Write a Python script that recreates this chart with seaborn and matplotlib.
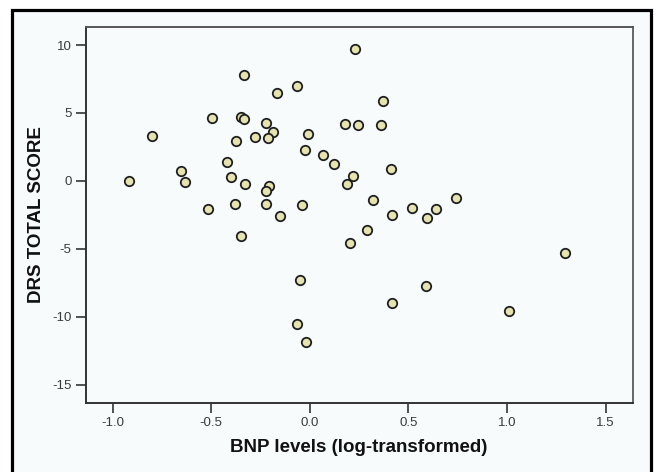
import matplotlib
matplotlib.use("Agg")
import matplotlib.pyplot as plt
from matplotlib.patches import Rectangle
import seaborn as sns
import pandas as pd

bnp_log = [0.231, -0.333, -0.064, -0.168, 0.371, -0.494, -0.350, -0.335, -0.225, 0.176,
           0.242, 0.361, -0.802, -0.189, -0.276, -0.214, -0.376, -0.008, -0.025, 0.064,
           0.121, -0.422, -0.654, 0.410, -0.401, 0.221, -0.919, -0.635, -0.329, -0.208,
           -0.221, 0.189, 0.318, 0.739, -0.518, -0.380, -0.225, -0.042, -0.151, 0.418,
           0.516, 0.641, 0.596, 0.291, -0.348, 0.202, 1.292, -0.049, 0.588, 0.418,
           1.012, -0.066, -0.019]
drs_total = [9.74, 7.78, 6.99, 6.47, 5.88, 4.60, 4.72, 4.58, 4.28, 4.21,
             4.11, 4.11, 3.27, 3.62, 3.20, 3.15, 2.95, 3.44, 2.29, 1.94,
             1.28, 1.40, 0.74, 0.89, 0.30, 0.34, -0.02, -0.10, -0.20, -0.39,
             -0.74, -0.25, -1.43, -1.28, -2.04, -1.72, -1.70, -1.80, -2.61, -2.51,
             -1.99, -2.07, -2.71, -3.62, -4.06, -4.58, -5.31, -7.26, -7.75, -9.01,
             -9.55, -10.51, -11.86]

x_ticks = [-1.0, -0.5, 0.0, 0.5, 1.0, 1.5]
x_tick_labels = ["-1.0", "-0.5", "0.0", "0.5", "1.0", "1.5"]
y_ticks = [10, 5, 0, -5, -10, -15]
y_tick_labels = ["10", "5", "0", "-5", "-10", "-15"]
x_label = "BNP levels (log-transformed)"
y_label = "DRS TOTAL SCORE"

df = pd.DataFrame({"bnp": bnp_log, "drs": drs_total})

sns.set_theme(style="ticks")
plt.rcParams["font.family"] = ["Liberation Sans", "DejaVu Sans"]

W, H = 656, 472
fig = plt.figure(figsize=(W / 100, H / 100), dpi=100, facecolor="white")
bg = "#F7FBFC"

# outer framed panel (drawn behind the axes)
border = Rectangle((12 / W, -0.05), (651 - 12) / W, (H - 9.5) / H + 0.05,
                   transform=fig.transFigure, facecolor=bg, edgecolor="black",
                   linewidth=2.3, zorder=-10)
fig.patches.append(border)

ax = fig.add_axes([85.5 / W, 1 - 402.7 / H, (632.7 - 85.5) / W, (402.7 - 26.7) / H])
ax.set_zorder(5)
ax.set_facecolor(bg)

sns.scatterplot(data=df, x="bnp", y="drs", ax=ax, s=46, color="#E6E3B2",
                edgecolor="#1f1f1f", linewidth=1.3, zorder=3, legend=False)

ax.set_xlim(-1.138, 1.637)
ax.set_ylim(-16.32, 11.35)
ax.set_xticks(x_ticks)
ax.set_xticklabels(x_tick_labels)
ax.set_yticks(y_ticks)
ax.set_yticklabels(y_tick_labels)

for s in ax.spines.values():
    s.set_visible(True)
    s.set_color("#333333")
    s.set_linewidth(1.4)
ax.spines["top"].set_color("#555555")
ax.spines["right"].set_color("#666666")

ax.tick_params(axis="both", direction="out", colors="#333333", labelcolor="#3a3a3a",
               labelsize=9.5, width=1.2)
ax.tick_params(axis="x", length=7, pad=3.5)
ax.tick_params(axis="y", length=7, pad=3)

ax.set_xlabel(x_label, fontsize=13.5, fontweight="bold", color="#111111", labelpad=7)
ax.set_ylabel(y_label, fontsize=13.5, fontweight="bold", color="#111111", labelpad=5)

fig.savefig("out.png", dpi=100, facecolor="white")
